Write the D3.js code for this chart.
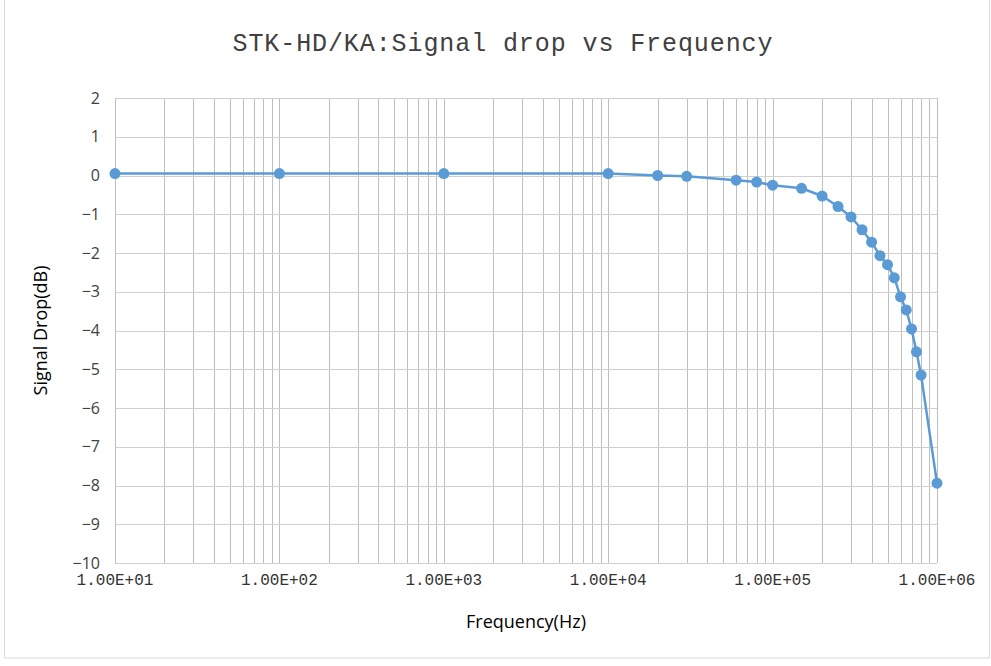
<!DOCTYPE html>
<html>
<head>
<meta charset="utf-8">
<script src="https://cdn.jsdelivr.net/npm/d3@7"></script>
<style>
  body { margin: 0; background: #fff; }
  svg { display: block; }
</style>
</head>
<body>
<div id="chart"></div>
<script>
// --------------- Data --------------- //

const freqHz = [10, 100, 1000, 10000, 20000, 30000, 60000, 80000, 100000,
    150000, 200000, 250000, 300000, 350000, 400000, 450000, 500000, 550000,
    600000, 650000, 700000, 750000, 800000, 1000000];
const dropDb = [0.05, 0.05, 0.05, 0.05, 0, -0.02, -0.12, -0.17, -0.25,
    -0.33, -0.53, -0.8, -1.07, -1.4, -1.72, -2.07, -2.3, -2.64,
    -3.13, -3.47, -3.96, -4.55, -5.15, -7.94];
const yTicks = d3.range(-10, 3);
const xTickLabels = ["1.00E+01", "1.00E+02", "1.00E+03", "1.00E+04", "1.00E+05", "1.00E+06"];

// --------------- Basic Setup --------------- //

const width = 991,
    height = 666;
const margin = {top: 98, right: 54, bottom: 103, left: 115};

const svg = d3.select("#chart")
    .append("svg")
    .attr("width", width)
    .attr("height", height);

// outer frame
svg.append("rect")
    .attr("x", 4.5).attr("y", -1)
    .attr("width", width - 6).attr("height", 659)
    .attr("fill", "none")
    .attr("stroke", "#d9d9d9");

const x = d3.scaleLog()
    .domain([10, 1e6])
    .range([margin.left, width - margin.right]);

const y = d3.scaleLinear()
    .domain([-10, 2])
    .range([height - margin.bottom, margin.top]);

// --------------- Grid --------------- //

// minor + major vertical lines (1..9 of each decade)
const vLines = [];
for (let e = 1; e < 6; e++) {
    for (let m = 1; m < 10; m++) vLines.push(m * Math.pow(10, e));
}
vLines.push(1e6);

svg.append("g")
    .selectAll("line")
    .data(vLines)
    .join("line")
    .attr("x1", d => Math.round(x(d)) + 0.5)
    .attr("x2", d => Math.round(x(d)) + 0.5)
    .attr("y1", y(2))
    .attr("y2", y(-10))
    .attr("stroke", "#bfbfbf")
    .attr("stroke-width", 1);

svg.append("g")
    .selectAll("line")
    .data(yTicks)
    .join("line")
    .attr("x1", x(10))
    .attr("x2", x(1e6))
    .attr("y1", d => Math.round(y(d)) + 0.5)
    .attr("y2", d => Math.round(y(d)) + 0.5)
    .attr("stroke", "#d0d0d0")
    .attr("stroke-width", 1);

// --------------- Axes labels --------------- //

svg.append("g")
    .selectAll("text")
    .data(yTicks)
    .join("text")
    .attr("x", 100)
    .attr("y", d => y(d))
    .attr("dy", "0.35em")
    .attr("text-anchor", "end")
    .attr("font-family", "Open Sans, Liberation Sans, sans-serif")
    .attr("font-size", 16)
    .attr("fill", "#404040")
    .text(d => d < 0 ? "\u2212" + Math.abs(d) : d);

svg.append("g")
    .selectAll("text")
    .data(xTickLabels)
    .join("text")
    .attr("x", (d, i) => x(Math.pow(10, i + 1)))
    .attr("y", y(-10) + 22)
    .attr("text-anchor", "middle")
    .attr("font-family", "Liberation Mono, monospace")
    .attr("font-size", 16)
    .attr("fill", "#333")
    .text(d => d);

svg.append("text")
    .attr("x", (x(10) + x(1e6)) / 2)
    .attr("y", 628)
    .attr("text-anchor", "middle")
    .attr("font-family", "Open Sans, Liberation Sans, sans-serif")
    .attr("font-size", 18)
    .attr("fill", "#000")
    .text("Frequency(Hz)");

svg.append("text")
    .attr("transform", `translate(47,${(y(2) + y(-10)) / 2}) rotate(-90)`)
    .attr("text-anchor", "middle")
    .attr("font-family", "Open Sans, Liberation Sans, sans-serif")
    .attr("font-size", 18)
    .attr("fill", "#000")
    .text("Signal Drop(dB)");

svg.append("text")
    .attr("x", width / 2 + 7)
    .attr("y", 51)
    .attr("text-anchor", "middle")
    .attr("font-family", "Liberation Mono, monospace")
    .attr("font-size", 25)
    .attr("fill", "#404040")
    .attr("textLength", 540)
    .text("STK-HD/KA:Signal drop vs Frequency");

// --------------- Series --------------- //

const points = freqHz.map((f, i) => [f, dropDb[i]]);

svg.append("path")
    .datum(points)
    .attr("fill", "none")
    .attr("stroke", "#5b9bd5")
    .attr("stroke-width", 2.5)
    .attr("stroke-linejoin", "round")
    .attr("d", d3.line().x(d => x(d[0])).y(d => y(d[1])));

svg.append("g")
    .selectAll("circle")
    .data(points)
    .join("circle")
    .attr("cx", d => x(d[0]))
    .attr("cy", d => y(d[1]))
    .attr("r", 5.5)
    .attr("fill", "#5b9bd5");
</script>
</body>
</html>
